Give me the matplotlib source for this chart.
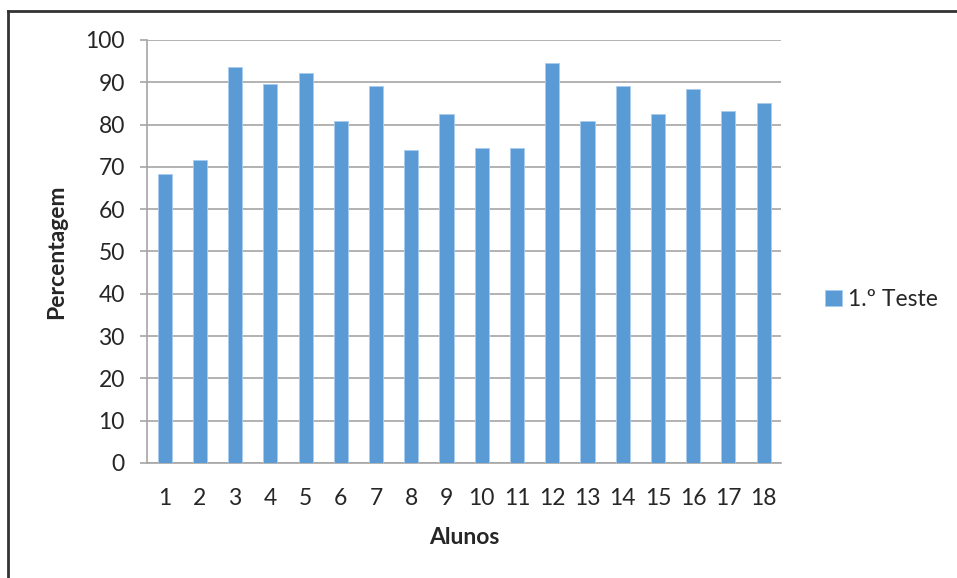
import matplotlib
matplotlib.use("Agg")
import matplotlib.pyplot as plt
from matplotlib.lines import Line2D

# notas do 1.º teste por aluno
alunos = list(range(1, 19))
percentagem = [68.4, 71.5, 93.5, 89.5, 92.2, 80.9, 89.2, 74.0, 82.4,
               74.5, 74.5, 94.5, 80.9, 89.0, 82.4, 88.5, 83.2, 85.2]
serie = "1.º Teste"
yticks = list(range(0, 101, 10))

plt.rcParams['font.family'] = ['Lato', 'DejaVu Sans']

fig = plt.figure(figsize=(9.57, 5.78), dpi=100)
ax = fig.add_axes([0.1536, 0.199, 0.8624 - 0.1536 - 0.046, 0.931 - 0.199])

ax.bar(alunos, percentagem, width=0.4, color='#5b9bd5',
       edgecolor='#a9cdef', linewidth=0.6, label=serie, zorder=3)

ax.set_xlim(0.5, 18.5)
ax.set_ylim(0, 100)
ax.set_yticks(yticks)
ax.set_xticks(alunos)
ax.grid(axis='y', color='#a6a6a6', linewidth=1.2, zorder=0)

for s in ['top', 'right']:
    ax.spines[s].set_visible(False)
ax.spines['left'].set_color('#a6a6a6')
ax.spines['bottom'].set_color('#a6a6a6')
ax.spines['left'].set_linewidth(1.2)
ax.spines['bottom'].set_linewidth(1.2)

ax.tick_params(axis='y', length=5, width=1.2, color='#a6a6a6', pad=11,
               labelsize=16.5, labelcolor='#262626')
ax.tick_params(axis='x', length=0, pad=18, labelsize=16.5, labelcolor='#262626')

ax.set_xlabel("Alunos", fontsize=16.5, fontweight='bold', color='#262626', labelpad=13)
ax.set_ylabel("Percentagem", fontsize=16.5, fontweight='bold', color='#262626', labelpad=13)

ax.legend(loc='center left', bbox_to_anchor=(0.841, 0.481),
          bbox_transform=fig.transFigure, frameon=False, fontsize=16.5,
          handlelength=0.7, handleheight=0.7, handletextpad=0.3,
          labelcolor='#262626')

# moldura do gráfico
fig.add_artist(Line2D([0.0084, 1.0], [0.981, 0.981], color='#333333', linewidth=2,
                      transform=fig.transFigure))
fig.add_artist(Line2D([0.0084, 0.0084], [0.0, 0.981], color='#333333', linewidth=2,
                      transform=fig.transFigure))

fig.savefig("out.png", dpi=100)
